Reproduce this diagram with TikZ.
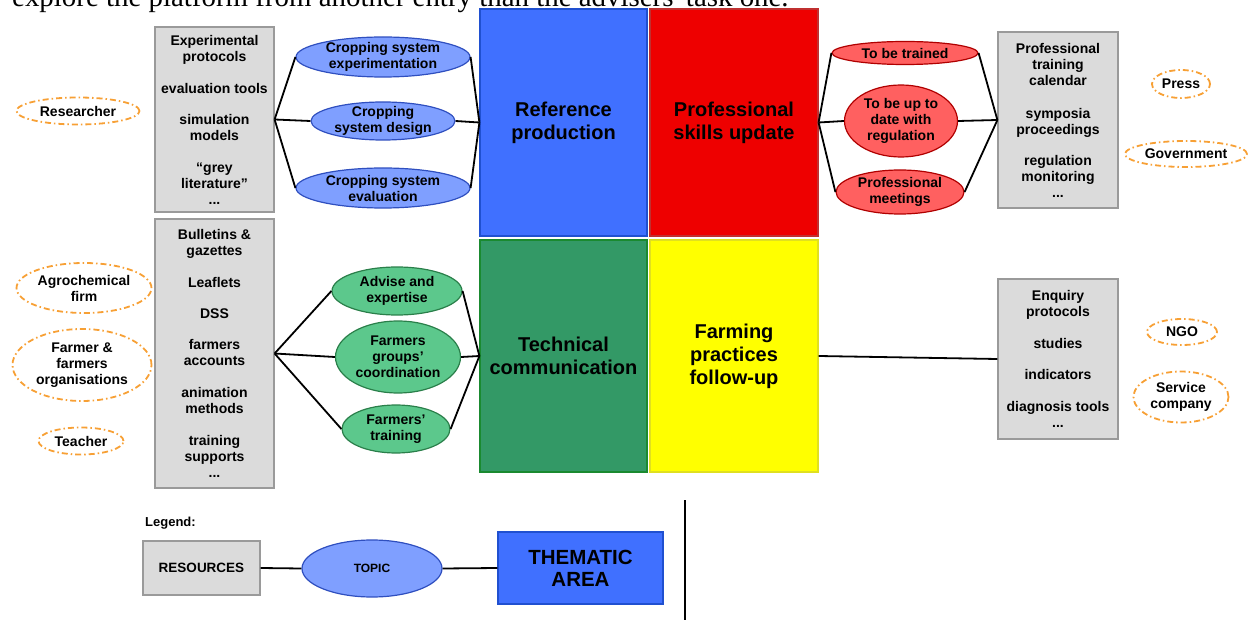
\documentclass[tikz,border=0pt]{standalone}
\usepackage{fontspec}
\setmainfont{Liberation Sans}
\newfontfamily\topserif{Liberation Serif}
\usetikzlibrary{shapes.geometric}
\definecolor{blueT}{HTML}{4070FF}
\definecolor{blueTline}{HTML}{2050D0}
\definecolor{redT}{HTML}{EE0000}
\definecolor{redTline}{HTML}{C03030}
\definecolor{greenT}{HTML}{339966}
\definecolor{greenTline}{HTML}{1A8A30}
\definecolor{yellowT}{HTML}{FFFF00}
\definecolor{yellowTline}{HTML}{E0E020}
\definecolor{blueE}{HTML}{7F9FFF}
\definecolor{blueEline}{HTML}{2F4FBF}
\definecolor{redE}{HTML}{FF6060}
\definecolor{redEline}{HTML}{B00000}
\definecolor{greenE}{HTML}{5CC88C}
\definecolor{greenEline}{HTML}{2A7F4A}
\definecolor{resfill}{HTML}{DBDBDB}
\definecolor{resline}{HTML}{9A9A9A}
\definecolor{actor}{HTML}{F7A035}
\tikzset{
  resbox/.style={draw=resline, fill=resfill, line width=1.2pt, inner sep=0pt, align=center,
    font=\bfseries\fontsize{14}{16}\selectfont},
  thema/.style={inner sep=0pt, align=center, line width=1.2pt,
    font=\bfseries\fontsize{20}{23}\selectfont},
  topic/.style={ellipse, inner sep=0pt, align=center, line width=1.2pt,
    font=\bfseries\fontsize{14}{16}\selectfont},
  actorell/.style={ellipse, draw=actor, line width=1.8pt, inner sep=0pt, align=center,
    dash pattern=on 6pt off 3pt on 1.5pt off 3pt,
    font=\bfseries\fontsize{14}{16}\selectfont},
  conn/.style={draw=black, line width=1.8pt},
}
\begin{document}
\begin{tikzpicture}[x=1pt,y=-1pt]
\useasboundingbox (0,0) rectangle (1251,620);
\clip (0,0) rectangle (1251,620);
% partial line of text at the top
\node[anchor=base west, inner sep=0pt, font=\topserif\fontsize{28.9}{30}\selectfont] (toptext) at (12,6.5)
  {explore the platform from another entry than the advisers' task one.};
% thematic areas
\node[thema, draw=blueTline, fill=blueT, minimum width=167pt, minimum height=227pt] (blue) at (563.5,122.5) {Reference\\production};
\node[thema, draw=redTline, fill=redT, minimum width=168pt, minimum height=227pt] (red) at (734,122.5) {Professional\\skills update};
\node[thema, draw=greenTline, fill=greenT, minimum width=167pt, minimum height=232pt] (green) at (563.5,356) {Technical\\communication};
\node[thema, draw=yellowTline, fill=yellowT, minimum width=168pt, minimum height=232pt] (yellow) at (734,356) {Farming\\practices\\follow-up};
% resources
\node[resbox, minimum width=119pt, minimum height=185pt] (res1) at (214.5,119.5)
  {Experimental\\protocols\\[16pt]evaluation tools\\[15pt]simulation\\models\\[16pt]“grey\\literature”\\...};
\node[resbox, minimum width=119pt, minimum height=269pt] (res2) at (214.5,353.5)
  {Bulletins \&\\gazettes\\[16pt]Leaflets\\[15pt]DSS\\[15pt]farmers\\accounts\\[16pt]animation\\methods\\[16pt]training\\supports\\...};
\node[resbox, minimum width=120pt, minimum height=176pt] (rb1) at (1058,120)
  {Professional\\training\\calendar\\[17pt]symposia\\proceedings\\[15pt]regulation\\monitoring\\...};
\node[resbox, minimum width=120pt, minimum height=160pt] (rb2) at (1058,359)
  {Enquiry\\protocols\\[16pt]studies\\[15pt]indicators\\[16pt]diagnosis tools\\...};
% topics: blue
\node[topic, draw=blueEline, fill=blueE, minimum width=174pt, minimum height=40pt, inner ysep=-4pt] (be1) at (383,57) {Cropping system\\experimentation};
\node[topic, draw=blueEline, fill=blueE, minimum width=144pt, minimum height=38pt, inner ysep=-5pt] (be2) at (383,121) {Cropping\\system design};
\node[topic, draw=blueEline, fill=blueE, minimum width=174pt, minimum height=40pt, inner ysep=-4pt] (be3) at (383,188) {Cropping system\\evaluation};
% topics: green
\node[topic, draw=greenEline, fill=greenE, minimum width=130pt, minimum height=48pt, inner ysep=-1pt] (ge1) at (397,291) {Advise and\\expertise};
\node[topic, draw=greenEline, fill=greenE, minimum width=125pt, minimum height=72pt] (ge2) at (398,357) {Farmers\\groups'\\coordination};
\node[topic, draw=greenEline, fill=greenE, minimum width=108pt, minimum height=48pt, inner ysep=-1pt] (ge3) at (396,429) {Farmers'\\training};
% topics: red
\node[topic, draw=redEline, fill=redE, minimum width=146pt, minimum height=23pt] (re1) at (905,53) {To be trained};
\node[topic, draw=redEline, fill=redE, minimum width=113pt, minimum height=72pt, inner ysep=-1pt] (re2) at (901,121) {To be up to\\date with\\regulation};
\node[topic, draw=redEline, fill=redE, minimum width=128pt, minimum height=44pt, inner ysep=-3pt] (re3) at (900,192) {Professional\\meetings};
% actors
\node[actorell, minimum width=123pt, minimum height=27pt] (a1) at (78,111) {Researcher};
\node[actorell, minimum width=135pt, minimum height=50pt, inner ysep=-1pt] (a2) at (84,288) {Agrochemical\\firm};
\node[actorell, minimum width=139pt, minimum height=72pt] (a3) at (82,365) {Farmer \&\\farmers\\organisations};
\node[actorell, minimum width=85pt, minimum height=27pt] (a4) at (81,441) {Teacher};
\node[actorell, minimum width=58pt, minimum height=28pt] (a5) at (1181,84) {Press};
\node[actorell, minimum width=122pt, minimum height=26pt] (a6) at (1186,154) {Government};
\node[actorell, minimum width=70pt, minimum height=26pt] (a7) at (1182,332) {NGO};
\node[actorell, minimum width=95pt, minimum height=51pt, inner ysep=-1pt] (a8) at (1181,397) {Service\\company};
% connectors
\foreach \e in {be1,be2,be3}{
  \draw[conn] (res1.east) -- (\e.west);
  \draw[conn] (\e.east) -- (blue.west);
}
\foreach \e in {ge1,ge2,ge3}{
  \draw[conn] (res2.east) -- (\e.west);
  \draw[conn] (\e.east) -- (green.west);
}
\foreach \e in {re1,re2,re3}{
  \draw[conn] (red.east) -- (\e.west);
  \draw[conn] (\e.east) -- (rb1.west);
}
\draw[conn] (yellow.east) -- (rb2.west);
% legend
\node[anchor=west, inner sep=0pt, font=\bfseries\fontsize{13}{15}\selectfont] (legtitle) at (145,523) {Legend:};
\node[resbox, minimum width=117pt, minimum height=54pt, font=\bfseries\fontsize{13.5}{15}\selectfont] (legres) at (201.5,568) {RESOURCES};
\node[topic, draw=blueEline, fill=blueE, minimum width=140pt, minimum height=57pt, font=\bfseries\fontsize{12}{14}\selectfont] (legtopic) at (372,568.5) {TOPIC};
\node[thema, draw=blueTline, fill=blueT, minimum width=165pt, minimum height=72pt, font=\bfseries\fontsize{20.5}{22}\selectfont] (legthema) at (580.5,568) {THEMATIC\\AREA};
\draw[conn] (legres.east) -- (legtopic.west);
\draw[conn] (legtopic.east) -- (legthema.west);
\coordinate (vtop) at (685,500);
\coordinate (vbot) at (685,620);
\draw[line width=1.5pt] (vtop) -- (vbot);
\end{tikzpicture}
\end{document}
